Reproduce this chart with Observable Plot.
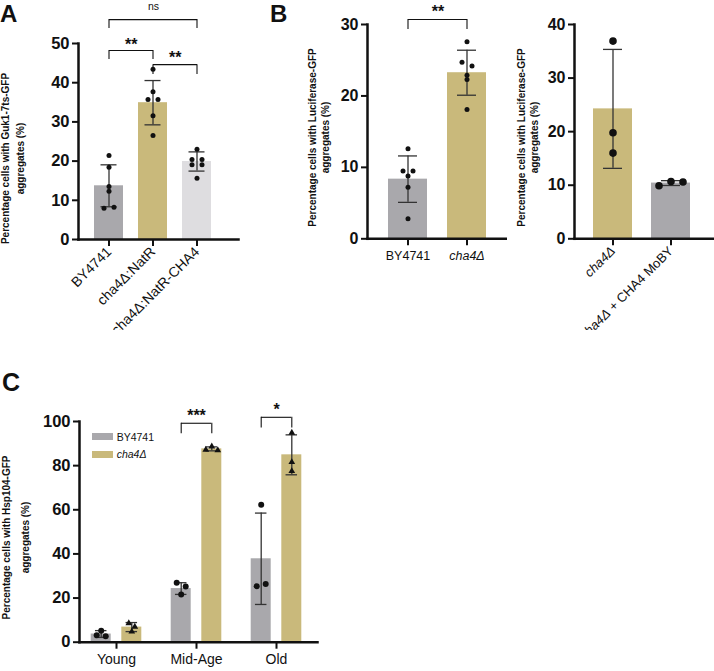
<!DOCTYPE html>
<html>
<head>
<meta charset="utf-8">
<script src="https://cdn.jsdelivr.net/npm/d3@7"></script>
<script src="https://cdn.jsdelivr.net/npm/@observablehq/plot@0.6"></script>
<style>
  body { margin: 0; background: #fff; }
  #figure { position: relative; width: 714px; height: 671px; overflow: hidden; background: #fff;
            font-family: "Liberation Sans", Arial, Helvetica, sans-serif; color: #111; }
  .panel { position: absolute; }
  .letter { position: absolute; font-weight: bold; line-height: 1; }
  .legend-row { position: absolute; display: flex; align-items: center; height: 11px; font-size: 10.5px; white-space: nowrap; }
  .legend-row .sw { display: inline-block; width: 21px; height: 7px; margin-right: 4px; }
</style>
</head>
<body>
<div id="figure"></div>
<script>
const FONT = '"Liberation Sans", Arial, Helvetica, sans-serif';
const GRAY = "#a9a8ac";
const GOLD = "#c9b97b";
const LIGHT = "#dedde0";
const INK = "#111111";
const WHISKER = "#333333";

// ---------- A: Guk1-7ts-GFP aggregates ----------
const strainsA = ["BY4741", "cha4Δ:NatR", "cha4Δ:NatR-CHA4"];
const meanA = [13.7, 34.9, 19.9];
const sdA = [5.35, 5.65, 2.45];
const repsA = [
  [21.4, 18.4, 13.5, 12.3, 8.0, 8.2],
  [43.4, 37.7, 35.7, 35.7, 31.6, 26.5],
  [23.0, 20.4, 20.4, 19.1, 19.1, 15.6]
];
const ticksA = [0, 10, 20, 30, 40, 50];
const sigA = [
  {from: "BY4741", to: "cha4Δ:NatR-CHA4", top: 56.1, foot: 53.8, label: "ns", at: 59.3},
  {from: "BY4741", to: "cha4Δ:NatR", top: 48.2, foot: 45.9, label: "**", at: 49.7},
  {from: "cha4Δ:NatR", to: "cha4Δ:NatR-CHA4", top: 44.6, foot: 42.1, label: "**", at: 46.4}
];
const titleA = ["Percentage cells with Guk1-7ts-GFP", "aggregates (%)"];

// ---------- B (left): Luciferase-GFP aggregates ----------
const strainsB = ["BY4741", "cha4Δ"];
const meanB = [8.35, 23.25];
const sdB = [3.25, 3.15];
const repsB = [
  [12.6, 9.5, 9.5, 8.8, 7.2, 2.8],
  [27.6, 24.7, 24.2, 22.9, 22.3, 18.1]
];
const ticksB = [0, 10, 20, 30];
const sigB = [{from: "BY4741", to: "cha4Δ", top: 30.7, foot: 29.3, label: "**", at: 31.8}];

// ---------- B (right): rescue by CHA4 MoBY plasmid ----------
const strainsB2 = ["cha4Δ", "cha4Δ + CHA4 MoBY"];
const meanB2 = [24.25, 10.4];
const sdB2 = [11.1, 0.45];
const repsB2 = [
  [36.9, 19.8, 16.0],
  [9.9, 10.7, 10.6]
];
const ticksB2 = [0, 10, 20, 30, 40];
const titleB = ["Percentage cells with Luciferase-GFP", "aggregates (%)"];

// ---------- C: Hsp104-GFP aggregates with replicative age ----------
const ages = ["Young", "Mid-Age", "Old"];
const seriesNames = ["BY4741", "cha4Δ"];
const meanBY = [3.7, 24.3, 37.8];
const sdBY = [1.55, 2.65, 20.7];
const repsBY = [[5.2, 3.2, 2.7], [26.9, 25.2, 21.6], [62.3, 25.4, 26.4]];
const meanCha = [6.85, 87.6, 84.9];
const sdCha = [2.05, 0.9, 9.05];
const repsCha = [[8.6, 7.0, 4.8], [87.2, 88.7, 87.0], [94.9, 81.6, 77.5]];
const ticksC = [0, 20, 40, 60, 80, 100];
const sigC = [
  {age: "Mid-Age", top: 99.2, foot: 94.4, label: "***", at: 102.6},
  {age: "Old", top: 101.9, foot: 97.1, label: "*", at: 105.3}
];
const titleC = ["Percentage cells with Hsp104-GFP", "aggregates (%)"];

// Replicates closer than `tol` (in data units) are fanned out sideways;
// returns a slot per value (…, -1, -0.5, 0, 0.5, 1, …) in the original order.
function slots(values, tol) {
  const order = d3.range(values.length).sort((a, b) => values[a] - values[b]);
  const out = new Array(values.length).fill(0);
  let group = [];
  const flush = () => {
    group.sort((a, b) => a - b).forEach((idx, k) => (out[idx] = k - (group.length - 1) / 2));
    group = [];
  };
  for (const i of order) {
    if (group.length && values[i] - values[group[group.length - 1]] >= tol) flush();
    group.push(i);
  }
  flush();
  return out;
}

function mount(node, left, top, width) {
  const div = document.createElement("div");
  div.className = "panel";
  Object.assign(div.style, {left: left + "px", top: top + "px", width: width + "px"});
  div.appendChild(node);
  document.getElementById("figure").appendChild(div);
}

// Strain names are set in italics
function italicizeStrain(svg) {
  d3.select(svg).selectAll("text").each(function () {
    const t = this.textContent;
    if (!t.startsWith("cha4Δ") || this.querySelector("tspan")) return;
    this.textContent = "";
    const s = d3.select(this);
    s.append("tspan").attr("font-style", "italic").text("cha4Δ");
    if (t.length > 5) s.append("tspan").text(t.slice(5));
  });
}

function yTitleMarks(lines, xs, cy, m, height) {
  const frameMid = (m.top + height - m.bottom) / 2;
  return lines.map((line, i) => Plot.text([line], {
    text: d => d, frameAnchor: "left", textAnchor: "middle", lineAnchor: "middle", rotate: -90,
    dx: xs[i] - m.left, dy: cy - frameMid, fontSize: 10, fontWeight: "bold"
  }));
}

function barPanel(p) {
  const n = p.cats.length;
  const m = p.margin;
  const bars = p.cats.map((cat, i) => ({cat, mean: p.means[i], sd: p.sds[i], fill: p.fills[i]}));
  const pxPerUnit = (p.height - m.top - m.bottom) / p.yMax;
  const dots = p.reps.flatMap((vals, i) =>
    slots(vals, 4 / pxPerUnit).map((s, j) => ({cat: p.cats[i], value: vals[j], s})));
  const step = (p.xRange[1] - p.xRange[0]) / (n - p.padding);
  const whisker = {stroke: WHISKER, strokeWidth: 1.3};
  const bracket = {stroke: INK, strokeWidth: 1.1};
  const marks = [
    Plot.barY(bars, {x: "cat", y: "mean", fill: "fill"}),
    Plot.ruleX(bars, {x: "cat", y1: d => d.mean - d.sd, y2: d => d.mean + d.sd, ...whisker}),
    Plot.tickY(bars, {x: "cat", y: d => d.mean + d.sd, insetLeft: p.capInset, insetRight: p.capInset, ...whisker}),
    Plot.tickY(bars, {x: "cat", y: d => d.mean - d.sd, insetLeft: p.capInset, insetRight: p.capInset, ...whisker}),
    ...d3.groups(dots, d => d.s).map(([s, ds]) =>
      Plot.dot(ds, {x: "cat", y: "value", r: p.r, fill: INK, dx: s * p.spread})),
    Plot.link(p.sig, {x1: "from", x2: "to", y1: "top", y2: "top", ...bracket}),
    Plot.ruleX(p.sig, {x: "from", y1: "foot", y2: "top", ...bracket}),
    Plot.ruleX(p.sig, {x: "to", y1: "foot", y2: "top", ...bracket}),
    ...p.sig.map(b => Plot.text([b], {
      x: "from", y: "at", text: "label",
      dx: (p.cats.indexOf(b.to) - p.cats.indexOf(b.from)) * step / 2,
      fontSize: b.label === "ns" ? 10.5 : 16, fontWeight: b.label === "ns" ? "normal" : "bold"
    })),
    Plot.axisY({ticks: p.ticks, tickSize: 6, tickPadding: 3, fontSize: p.tickFont, fontWeight: "bold",
                strokeWidth: 2, label: null}),
    Plot.axisX({tickSize: 7, strokeWidth: 2, tickPadding: p.xPad, fontSize: p.xFont,
                tickRotate: p.rotate, label: null}),
    Plot.frame({anchor: "left", stroke: INK, strokeWidth: 2.5}),
    Plot.frame({anchor: "bottom", stroke: INK, strokeWidth: 2.5}),
    ...yTitleMarks(p.title, p.titleX, p.titleY, m, p.height)
  ];
  const svg = Plot.plot({
    width: p.width, height: p.height,
    marginTop: m.top, marginRight: m.right, marginBottom: m.bottom, marginLeft: m.left,
    x: {domain: p.cats, range: p.xRange, paddingInner: p.padding, paddingOuter: 0},
    y: {domain: [0, p.yMax]},
    color: {type: "identity"},
    style: {fontFamily: FONT, color: INK, background: "transparent"},
    marks
  });
  if (p.italic) italicizeStrain(svg);
  mount(svg, p.left, p.top, p.width);
}

// Panel A
barPanel({
  cats: strainsA, means: meanA, sds: sdA, reps: repsA, fills: [GRAY, GOLD, LIGHT],
  ticks: ticksA, yMax: 50, sig: sigA, title: titleA, titleX: [5.5, 20.7], titleY: 158,
  left: 0, top: 0, width: 240, height: 330,
  margin: {top: 43, right: 2, bottom: 91, left: 78},
  xRange: [93.5, 211.5], padding: 0.348, capInset: 6.5, r: 2.5, spread: 10,
  tickFont: 16.5, xFont: 14, xPad: 3, rotate: -45, italic: false
});

// Panel B, left
barPanel({
  cats: strainsB, means: meanB, sds: sdB, reps: repsB, fills: [GRAY, GOLD],
  ticks: ticksB, yMax: 30, sig: sigB, title: titleB, titleX: [22.3, 35.3], titleY: 137,
  left: 290, top: 0, width: 217, height: 330,
  margin: {top: 24, right: 0, bottom: 91.7, left: 77},
  xRange: [97, 197], padding: 0.333, capInset: 10, r: 2.5, spread: 10,
  tickFont: 16, xFont: 12.5, xPad: 5, rotate: 0, italic: true
});

// Panel B, right
barPanel({
  cats: strainsB2, means: meanB2, sds: sdB2, reps: repsB2, fills: [GOLD, GRAY],
  ticks: ticksB2, yMax: 40, sig: [], title: titleB, titleX: [13.7, 26.7], titleY: 137,
  left: 508, top: 0, width: 206, height: 330,
  margin: {top: 24, right: 0, bottom: 91.7, left: 66},
  xRange: [85, 182.5], padding: 0.333, capInset: 10, r: 3.8, spread: 12,
  tickFont: 16, xFont: 13, xPad: 3, rotate: -45, italic: true
});

// Panel C: grouped bars, BY4741 left and cha4Δ right within each age
(function () {
  const m = {top: 81, right: 3, bottom: 29.3, left: 79};
  const width = 320, height = 331;
  const xRange = [75.5, 317];
  const band = (xRange[1] - xRange[0]) / ages.length;
  const half = 15.3;          // distance of each bar centre from the group centre
  const barInset = band / 2 - 10.25;
  const capInset = band / 2 - 6;
  const pxPerUnit = (height - m.top - m.bottom) / 100;
  const series = [
    {means: meanBY, sds: sdBY, reps: repsBY, fill: GRAY, symbol: "circle", r: 3},
    {means: meanCha, sds: sdCha, reps: repsCha, fill: GOLD, symbol: "triangle", r: 2.5}
  ];
  const whisker = {stroke: WHISKER, strokeWidth: 1.3};
  const bracket = {stroke: INK, strokeWidth: 1.1};
  const marks = [];
  series.forEach((s, k) => {
    const off = (k === 0 ? -1 : 1) * half;
    const rows = ages.map((age, i) => ({age, mean: s.means[i], sd: s.sds[i]}));
    const dots = s.reps.flatMap((vals, i) =>
      slots(vals, 4 / pxPerUnit).map((slot, j) => ({age: ages[i], value: vals[j], slot})));
    marks.push(
      Plot.barY(rows, {x: "age", y: "mean", fill: s.fill, insetLeft: barInset, insetRight: barInset, dx: off}),
      Plot.ruleX(rows, {x: "age", y1: d => d.mean - d.sd, y2: d => d.mean + d.sd, dx: off, ...whisker}),
      Plot.tickY(rows, {x: "age", y: d => d.mean + d.sd, insetLeft: capInset, insetRight: capInset, dx: off, ...whisker}),
      Plot.tickY(rows, {x: "age", y: d => d.mean - d.sd, insetLeft: capInset, insetRight: capInset, dx: off, ...whisker}),
      ...d3.groups(dots, d => d.slot).map(([slot, ds]) =>
        Plot.dot(ds, {x: "age", y: "value", symbol: s.symbol, r: s.r, fill: INK, dx: off + slot * (k === 0 ? 9 : 6)}))
    );
  });
  marks.push(
    Plot.tickY(sigC, {x: "age", y: "top", insetLeft: band / 2 - half, insetRight: band / 2 - half, ...bracket}),
    Plot.ruleX(sigC, {x: "age", y1: "foot", y2: "top", dx: -half, ...bracket}),
    Plot.ruleX(sigC, {x: "age", y1: "foot", y2: "top", dx: half, ...bracket}),
    Plot.text(sigC, {x: "age", y: "at", text: "label", fontSize: 16, fontWeight: "bold"}),
    Plot.axisY({ticks: ticksC, tickSize: 6, tickPadding: 3, fontSize: 16.5, fontWeight: "bold", strokeWidth: 2, label: null}),
    Plot.axisX({tickSize: 7, strokeWidth: 2, tickPadding: 5, fontSize: 14, label: null}),
    Plot.frame({anchor: "left", stroke: INK, strokeWidth: 2.5}),
    Plot.frame({anchor: "bottom", stroke: INK, strokeWidth: 2.5}),
    ...yTitleMarks(titleC, [6.7, 25], 197, m, height)
  );
  const svg = Plot.plot({
    width, height,
    marginTop: m.top, marginRight: m.right, marginBottom: m.bottom, marginLeft: m.left,
    x: {domain: ages, range: xRange, padding: 0},
    y: {domain: [0, 100]},
    style: {fontFamily: FONT, color: INK, background: "transparent"},
    marks
  });
  mount(svg, 0, 340, width);

  // legend
  const fig = document.getElementById("figure");
  seriesNames.forEach((name, k) => {
    const row = document.createElement("div");
    row.className = "legend-row";
    Object.assign(row.style, {left: "91.7px", top: (431 + k * 17.7) + "px"});
    const sw = document.createElement("span");
    sw.className = "sw";
    sw.style.background = series[k].fill;
    const label = document.createElement(name.startsWith("cha4") ? "i" : "span");
    label.textContent = name;
    row.append(sw, label);
    fig.appendChild(row);
  });
})();

// panel letters
[["A", 0, 2, 24], ["B", 270, 2, 24], ["C", 2, 370, 25]].forEach(([t, x, y, size]) => {
  const d = document.createElement("div");
  d.className = "letter";
  Object.assign(d.style, {left: x + "px", top: y + "px", fontSize: size + "px"});
  d.textContent = t;
  document.getElementById("figure").appendChild(d);
});
</script>
</body>
</html>
